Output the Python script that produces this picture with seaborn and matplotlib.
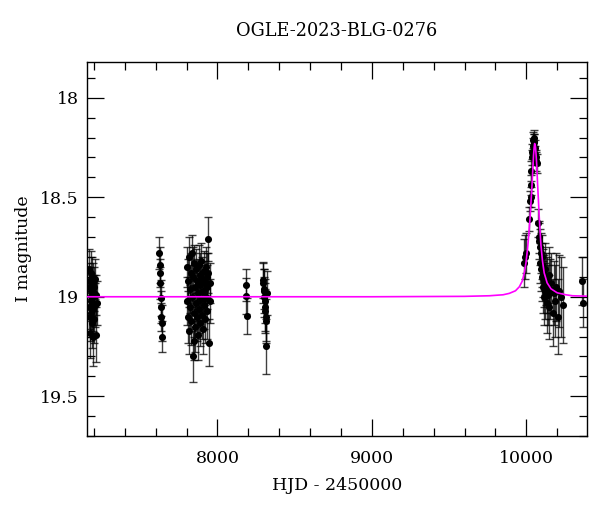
import numpy as np
import pandas as pd
import matplotlib
matplotlib.use("Agg")
import matplotlib.pyplot as plt
from matplotlib.ticker import MultipleLocator
import seaborn as sns

# ---------------- data ----------------
title = "OGLE-2023-BLG-0276"
xlabel = "HJD - 2450000"
ylabel = "I magnitude"

hjd = [
    # season 2015/16
    7166, 7168, 7170, 7172, 7174, 7176, 7178, 7180, 7182, 7184, 7186, 7188,
    7190, 7192, 7194, 7196, 7198, 7200, 7202, 7205, 7208, 7211, 7214, 7218,
    # season 2016
    7622, 7625, 7627, 7630, 7632, 7634, 7637, 7640, 7643,
    # season 2017
    7800, 7804, 7808, 7812, 7815, 7818, 7821, 7824, 7827, 7830, 7833, 7836,
    7839, 7842, 7845, 7848, 7851, 7854, 7857, 7860, 7863, 7866, 7869, 7872,
    7875, 7878, 7881, 7884, 7887, 7890, 7893, 7896, 7899, 7902, 7905, 7908,
    7911, 7914, 7917, 7920, 7923, 7926, 7929, 7932, 7935, 7938, 7941, 7945,
    7950, 7954,
    # season 2018
    8186, 8188, 8190,
    # season 2018b
    8296, 8298, 8300, 8302, 8304, 8306, 8308, 8310, 8312, 8314, 8316, 8319,
    # season 2023
    9986, 9990, 9995, 10020, 10025, 10029, 10031, 10033, 10036, 10038, 10041,
    10044, 10047, 10050, 10053, 10056, 10059, 10062, 10066, 10070, 10074,
    10080, 10084, 10087, 10090, 10093, 10096, 10099, 10102, 10105, 10108,
    10111, 10114, 10117, 10120, 10124, 10128, 10132, 10136, 10140, 10145,
    10150, 10156, 10162, 10170, 10178, 10186, 10195, 10205, 10215, 10226,
    10237,
    # season 2024
    10364, 10367,
]

imag = [
    18.86, 19.05, 18.92, 19.10, 18.95, 19.18, 18.88, 19.02, 19.08, 18.97,
    19.13, 18.90, 19.00, 19.20, 18.93, 19.06, 18.98, 19.11, 18.95, 19.04,
    18.91, 19.19, 18.99, 19.03,
    18.78, 18.84, 18.88, 18.93, 19.005, 19.05, 19.10, 19.13, 19.20,
    19.02, 18.85, 19.10, 18.92, 19.17, 18.80, 19.05, 18.96, 18.88, 19.12,
    18.78, 19.00, 19.30, 18.90, 19.22, 19.08, 18.83, 19.15, 18.95, 19.03,
    18.86, 19.10, 18.92, 19.19, 18.98, 18.84, 19.06, 18.89, 19.13, 18.94,
    19.01, 18.82, 19.09, 18.91, 19.16, 18.97, 18.87, 19.04, 18.93, 19.11,
    18.85, 19.00, 18.90, 19.07, 18.95, 18.88, 18.71, 19.23, 18.93, 19.02,
    18.94, 18.995, 19.095,
    18.915, 18.93, 18.96, 18.97, 19.00, 19.02, 19.05, 19.07, 19.10, 19.12,
    19.25, 18.98,
    18.83, 18.80, 18.78, 18.61, 18.52, 18.50, 18.44, 18.37, 18.30, 18.27,
    18.24, 18.21, 18.20, 18.22, 18.22, 18.25, 18.28, 18.30, 18.32, 18.33,
    18.63, 18.70, 18.72, 18.75, 18.83, 18.78, 18.86, 18.80, 18.90, 18.84,
    18.95, 18.88, 18.92, 19.00, 18.86, 18.97, 18.91, 19.03, 18.94, 18.99,
    18.89, 19.05, 18.96, 18.93, 19.08, 18.98, 19.02, 18.95, 19.10, 18.97,
    19.00, 19.04,
    18.92, 19.03,
]

ierr = [
    0.10, 0.11, 0.09, 0.12, 0.10, 0.13, 0.11, 0.10, 0.12, 0.09, 0.13, 0.10,
    0.11, 0.15, 0.10, 0.11, 0.09, 0.12, 0.10, 0.11, 0.10, 0.14, 0.10, 0.11,
    0.08, 0.09, 0.07, 0.08, 0.09, 0.08, 0.07, 0.09, 0.08,
    0.12, 0.10, 0.13, 0.11, 0.12, 0.10, 0.11, 0.12, 0.10, 0.12, 0.09, 0.11,
    0.13, 0.15, 0.10, 0.12, 0.09, 0.13, 0.11, 0.12, 0.10, 0.12, 0.11, 0.13,
    0.10, 0.10, 0.12, 0.11, 0.12, 0.10, 0.11, 0.09, 0.12, 0.11, 0.13, 0.10,
    0.10, 0.12, 0.11, 0.12, 0.10, 0.11, 0.12, 0.14, 0.11, 0.10, 0.11, 0.12,
    0.10, 0.11,
    0.08, 0.09, 0.09,
    0.09, 0.10, 0.10, 0.11, 0.10, 0.11, 0.12, 0.11, 0.12, 0.11, 0.14, 0.11,
    0.12, 0.11, 0.10, 0.06, 0.05, 0.05, 0.05, 0.05, 0.04, 0.04, 0.04, 0.04,
    0.04, 0.04, 0.04, 0.04, 0.04, 0.04, 0.05, 0.05, 0.07, 0.08, 0.09, 0.09,
    0.10, 0.10, 0.11, 0.11, 0.12, 0.11, 0.13, 0.12, 0.13, 0.14, 0.13, 0.14,
    0.13, 0.15, 0.14, 0.15, 0.14, 0.16, 0.15, 0.15, 0.17, 0.16, 0.18, 0.17,
    0.19, 0.18, 0.20, 0.19,
    0.12, 0.12,
]

model_hjd = [7150, 9000, 9600, 9761, 9850, 9890, 9930, 9955, 9975, 9987,
             9998, 10008, 10016, 10024, 10031, 10037, 10043, 10047, 10051,
             10054, 10057, 10060, 10063, 10068, 10073, 10079, 10084, 10090,
             10095, 10105, 10116, 10135, 10160, 10200, 10256, 10300, 10392]
model_mag = [19.0, 19.0, 18.998, 18.995, 18.99, 18.983, 18.97, 18.95, 18.92,
             18.88, 18.83, 18.76, 18.69, 18.61, 18.52, 18.44, 18.35, 18.29,
             18.25, 18.23, 18.235, 18.25, 18.28, 18.34, 18.43, 18.52, 18.60,
             18.68, 18.74, 18.82, 18.88, 18.93, 18.96, 18.98, 18.99, 18.995,
             18.997]

x_ticks = [8000, 9000, 10000]
y_ticks = [18.0, 18.5, 19.0, 19.5]
y_tick_labels = ["18", "18.5", "19", "19.5"]

# ---------------- plot ----------------
sns.set_theme(style="ticks")
plt.rcParams["font.family"] = ["DejaVu Serif"]
plt.rcParams["mathtext.fontset"] = "dejavuserif"
plt.rcParams["text.color"] = "black"
plt.rcParams["axes.labelcolor"] = "black"
plt.rcParams["xtick.color"] = "black"
plt.rcParams["ytick.color"] = "black"

n = min(len(hjd), len(imag), len(ierr))
df = pd.DataFrame({"hjd": hjd[:n], "mag": imag[:n], "err": ierr[:n]})
model = pd.DataFrame({"hjd": model_hjd, "mag": model_mag})

fig = plt.figure(figsize=(6.0, 5.12), dpi=100)
ax = fig.add_axes([0.145, 0.1484, 0.833, 0.7305])

ax.errorbar(df["hjd"], df["mag"], yerr=df["err"], fmt="none",
            ecolor="black", elinewidth=1.0, capsize=2.8, capthick=1.0,
            alpha=0.75, zorder=2)
sns.scatterplot(data=df, x="hjd", y="mag", ax=ax, color="black", s=26,
                edgecolor="black", linewidth=0, zorder=3, legend=False)
sns.lineplot(data=model, x="hjd", y="mag", ax=ax, color="#ff00ff",
             linewidth=1.2, sort=False, estimator=None, zorder=4)

ax.set_xlim(7155, 10392)
ax.set_ylim(19.70, 17.82)

ax.set_xticks(x_ticks)
ax.set_xticklabels([str(v) for v in x_ticks])
ax.set_yticks(y_ticks)
ax.set_yticklabels(y_tick_labels)
ax.xaxis.set_minor_locator(MultipleLocator(200))
ax.yaxis.set_minor_locator(MultipleLocator(0.1))

ax.tick_params(which="both", direction="in", top=True, right=True,
               color="black", width=0.9)
ax.tick_params(which="major", length=12)
ax.tick_params(which="minor", length=6)
ax.tick_params(axis="x", which="major", labelsize=12.5, pad=10,
               labelcolor="black")
ax.tick_params(axis="y", which="major", labelsize=12.5, pad=6,
               labelcolor="black")

for sp in ax.spines.values():
    sp.set_color("black")
    sp.set_linewidth(1.0)

ax.set_xlabel(xlabel, fontsize=12.5, labelpad=7, color="black")
ax.set_ylabel(ylabel, fontsize=12.5, labelpad=6, color="black")
ax.set_title(title, fontsize=12.8, pad=19, color="black")

fig.savefig("out.png", dpi=100)
